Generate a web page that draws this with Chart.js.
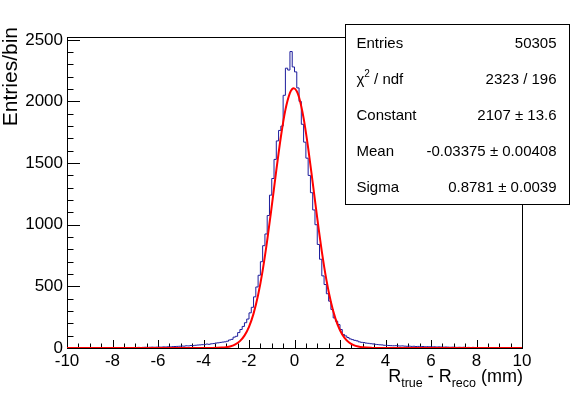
<!DOCTYPE html>
<html>
<head>
<meta charset="utf-8">
<script src="https://cdn.jsdelivr.net/npm/chart.js@4/dist/chart.umd.min.js"></script>
<style>
  html, body { margin: 0; padding: 0; background: #fff; }
  #wrap { width: 581px; height: 394px; }
</style>
</head>
<body>
<div id="wrap"><canvas id="hist"></canvas></div>
<script>
// ===== Data =====

// histogram: 200 bins of 0.1 mm from -10 to 10
const binStart = -10;
const binWidth = 0.1;
const counts = [
  1, 0, 2, 1, 1, 2, 0, 1, 2, 1,                          // -10 .. -9
  1, 2, 1, 2, 1, 3, 2, 1, 2, 3,                          // -9 .. -8
  2, 3, 2, 3, 4, 2, 3, 4, 3, 4,                          // -8 .. -7
  4, 3, 5, 4, 5, 6, 5, 6, 7, 6,                          // -7 .. -6
  7, 8, 7, 9, 8, 10, 9, 11, 12, 13,                      // -6 .. -5
  14, 16, 15, 18, 17, 20, 19, 22, 24, 25,                // -5 .. -4
  27, 28, 32, 30, 34, 36, 40, 42, 45, 48,                // -4 .. -3
  50, 55, 65, 70, 88, 95, 125, 150, 175, 205,            // -3 .. -2
  235, 285, 330, 415, 495, 590, 700, 830, 925, 1075,     // -2 .. -1
  1240, 1375, 1530, 1680, 1765, 1800, 2050, 2270, 2255, 2405, // -1 .. 0
  2280, 2240, 2110, 2000, 1815, 1670, 1540, 1400, 1260, 1120, // 0 .. 1
  1000, 840, 720, 585, 515, 440, 380, 312, 244, 217,     // 1 .. 2
  190, 150, 110, 98, 85, 74, 68, 62, 58, 50,             // 2 .. 3
  46, 44, 40, 38, 35, 33, 30, 28, 26, 25,                // 3 .. 4
  22, 21, 20, 19, 18, 19, 17, 16, 17, 15,                // 4 .. 5
  14, 15, 13, 14, 12, 13, 11, 12, 10, 11,                // 5 .. 6
  10, 9, 10, 8, 9, 8, 7, 8, 7, 6,                        // 6 .. 7
  7, 6, 5, 6, 5, 6, 4, 5, 4, 5,                          // 7 .. 8
  4, 3, 4, 3, 4, 3, 2, 3, 3, 2,                          // 8 .. 9
  3, 2, 2, 3, 1, 2, 2, 1, 2, 1                           // 9 .. 10
];

// gaussian fit curve, sampled from the red line
const fitX = [-10, -4.0, -3.6, -3.2, -3.0, -2.8, -2.6, -2.4, -2.2, -2.0, -1.8, -1.6, -1.4, -1.2,
  -1.0, -0.8, -0.6, -0.4, -0.2, -0.1, -0.03, 0.1, 0.2, 0.4, 0.6, 0.8, 1.0, 1.2, 1.4, 1.6, 1.8,
  2.0, 2.2, 2.4, 2.6, 2.8, 3.0, 3.4, 3.8, 10];
const fitY = [0, 0.1, 0.4, 3.2, 7.0, 14.7, 29.4, 55.8, 100.5, 171.8, 278.7, 429.5, 628.1, 872.3,
  1150.4, 1440.1, 1711.7, 1931.7, 2069.7, 2101, 2107, 2082.6, 2033.5, 1864.7, 1623.4, 1341.9, 1053.1, 784.6, 555.0, 372.9, 237.9,
  144.0, 82.8, 45.2, 23.4, 11.5, 5.4, 1.0, 0.15, 0];

// axis ticks
const xTicks = [-10, -8, -6, -4, -2, 0, 2, 4, 6, 8, 10];
const yTicks = [0, 500, 1000, 1500, 2000, 2500];
const yMax = 2523;

// stats box rows
const statLabels = ["Entries", "chi2", "Constant", "Mean", "Sigma"];
const statValues = ["50305", "2323 / 196", "2107 \u00b1 13.6", "-0.03375 \u00b1 0.00408", "0.8781 \u00b1 0.0039"];

// ===== Helpers =====
const FONT = "'Liberation Sans', Arial, Helvetica, sans-serif";

const histPoints = counts.map((c, i) => ({ x: binStart + i * binWidth, y: c }));
histPoints.push({ x: binStart + counts.length * binWidth, y: counts[counts.length - 1] });

const fitPoints = fitX.map((x, i) => ({ x: x, y: fitY[i] }));

// draw text pieces (normal / sub / sup) right-aligned or left-aligned
function drawRich(ctx, pieces, x, y, alignRight) {
  ctx.textAlign = "left";
  const widths = pieces.map(p => { ctx.font = p.size + "px " + FONT; return ctx.measureText(p.t).width; });
  const total = widths.reduce((a, b) => a + b, 0);
  let cx = alignRight ? x - total : x;
  pieces.forEach((p, i) => {
    ctx.font = p.size + "px " + FONT;
    ctx.fillText(p.t, cx, y + (p.dy || 0));
    cx += widths[i];
  });
}

// ROOT-like frame, inward ticks, titles and stats box
const rootDecor = {
  id: "rootDecor",
  beforeDatasetsDraw(chart) {
    const { ctx, chartArea: a, scales: { x, y } } = chart;
    ctx.save();
    ctx.strokeStyle = "#000";
    ctx.lineWidth = 1;
    ctx.strokeRect(a.left + 0.5, a.top + 0.5, a.right - a.left, a.bottom - a.top);

    ctx.beginPath();
    for (let v = x.min; v <= x.max + 1e-9; v += 0.5) {
      const px = Math.round(x.getPixelForValue(v)) + 0.5;
      const len = Math.abs(v % 2) < 1e-9 ? 8 : 4.5;
      ctx.moveTo(px, a.bottom);
      ctx.lineTo(px, a.bottom - len);
    }
    for (let v = 0; v <= y.max; v += 100) {
      const py = Math.round(y.getPixelForValue(v)) + 0.5;
      const len = v % 500 === 0 ? 13 : 6.5;
      ctx.moveTo(a.left, py);
      ctx.lineTo(a.left + len, py);
    }
    ctx.stroke();

    // axis titles
    ctx.fillStyle = "#000";
    ctx.textBaseline = "alphabetic";
    drawRich(ctx, [
      { t: "R", size: 18 },
      { t: "true", size: 12.5, dy: 5 },
      { t: " - R", size: 18 },
      { t: "reco", size: 12.5, dy: 5 },
      { t: " (mm)", size: 18 }
    ], a.right + 1, 382, true);

    ctx.save();
    ctx.translate(17, a.top - 10);
    ctx.rotate(-Math.PI / 2);
    ctx.font = "21px " + FONT;
    ctx.textAlign = "right";
    ctx.fillText("Entries/bin", 0, 0);
    ctx.restore();
    ctx.restore();
  },
  afterDatasetsDraw(chart) {
    const { ctx } = chart;
    ctx.save();
    // stats box
    const bx = 345.5, by = 24.5, bw = 224, bh = 180;
    ctx.fillStyle = "#fff";
    ctx.fillRect(bx, by, bw, bh);
    ctx.strokeStyle = "#000";
    ctx.lineWidth = 1;
    ctx.strokeRect(bx, by, bw, bh);

    ctx.fillStyle = "#000";
    ctx.textBaseline = "middle";
    const rowH = bh / statLabels.length;
    statLabels.forEach((lab, i) => {
      const ry = by + rowH * (i + 0.5) + 1;
      if (lab === "chi2") {
        drawRich(ctx, [
          { t: "\u03c7", size: 15 },
          { t: "2", size: 10, dy: -5 },
          { t: " / ndf", size: 15 }
        ], bx + 11, ry, false);
      } else {
        ctx.font = "15px " + FONT;
        ctx.textAlign = "left";
        ctx.fillText(lab, bx + 11, ry);
      }
      ctx.font = "15px " + FONT;
      ctx.textAlign = "right";
      ctx.fillText(statValues[i], bx + bw - 13, ry);
    });
    ctx.restore();
  }
};

// ===== Chart =====
const ctx = document.getElementById("hist").getContext("2d");
const chart = new Chart(ctx, {
  type: "line",
  data: {
    datasets: [
      {
        label: "fit",
        data: fitPoints,
        borderColor: "#ff0000",
        borderWidth: 2,
        pointRadius: 0,
        cubicInterpolationMode: "monotone",
        fill: false
      },
      {
        label: "histogram",
        data: histPoints,
        borderColor: "#1c1c9c",
        borderWidth: 1,
        pointRadius: 0,
        stepped: "after",
        fill: false
      }
    ]
  },
  options: {
    responsive: true,
    maintainAspectRatio: false,
    animation: false,
    devicePixelRatio: 1,
    layout: { padding: { left: 0, top: 37, right: 59, bottom: 0 } },
    plugins: {
      legend: { display: false },
      tooltip: { enabled: false }
    },
    scales: {
      x: {
        type: "linear",
        min: -10,
        max: 10,
        grid: { display: false, drawTicks: false },
        border: { display: false },
        afterBuildTicks: s => { s.ticks = xTicks.map(v => ({ value: v })); },
        afterFit: s => { s.height = 46; },
        ticks: {
          autoSkip: false,
          maxRotation: 0,
          padding: 3,
          color: "#000",
          font: { family: FONT, size: 17 },
          callback: v => String(v)
        }
      },
      y: {
        type: "linear",
        min: 0,
        max: yMax,
        grid: { display: false, drawTicks: false },
        border: { display: false },
        afterBuildTicks: s => { s.ticks = yTicks.map(v => ({ value: v })); },
        afterFit: s => { s.width = 67; },
        ticks: {
          autoSkip: false,
          padding: 4,
          color: "#000",
          font: { family: FONT, size: 17 },
          callback: v => String(v)
        }
      }
    }
  },
  plugins: [rootDecor]
});
</script>
</body>
</html>
